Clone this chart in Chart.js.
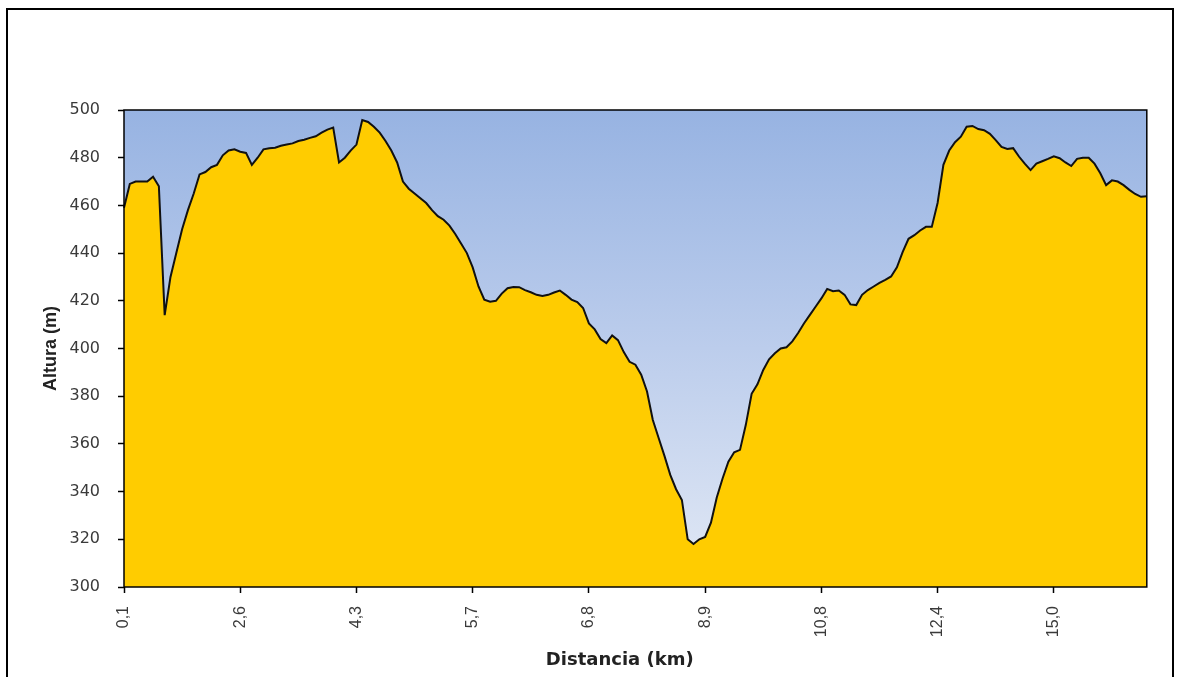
<!DOCTYPE html>
<html>
<head>
<meta charset="utf-8">
<title>Perfil de altura</title>
<script src="https://cdn.jsdelivr.net/npm/chart.js@4.4.1/dist/chart.umd.min.js"></script>
<style>
    body { margin: 0; background: #fff; }
    #marco {
        position: absolute; left: 6px; top: 8px;
        width: 1164px; height: 700px;
        border: 2px solid #000;
    }
    #my-Chart { position: absolute; left: 0; top: 0; }
</style>
</head>
<body>
<div id="marco"></div>
<canvas id="my-Chart" width="1179" height="677"></canvas>
<script>
// altura (m) de cada punto del perfil
const alturas = [
    459, 469, 470, 470, 470, 472, 468, 414, 430, 440,
    450, 458, 465, 473, 474, 476, 477, 481, 483, 483.5,
    482.5, 482, 477, 480, 483.5, 484, 484.2, 485, 485.5, 486,
    487, 487.5, 488.3, 489, 490.5, 491.8, 492.6, 478, 480, 483,
    485.5, 495.8, 495, 493, 490.5, 487, 483, 478, 470, 467,
    465, 463, 461, 458, 455.5, 454, 451.5, 448, 444, 440,
    434, 426, 420.5, 419.6, 420, 423, 425.3, 425.8, 425.7, 424.5,
    423.6, 422.5, 422, 422.5, 423.5, 424.3, 422.5, 420.5, 419.5, 417,
    410.5, 408, 404, 402.3, 405.5, 403.5, 398.5, 394.4, 393.2, 389,
    382, 370, 362.5, 355, 347, 341, 336.5, 320, 318, 320,
    321, 327, 337.5, 345.5, 352.5, 356.5, 357.5, 368, 381, 385,
    391, 395.5, 398, 400, 400.5, 403, 406.5, 410.5, 414, 417.5,
    421, 425, 424, 424.3, 422.5, 418.5, 418.2, 422.5, 424.5, 426,
    427.5, 428.8, 430.2, 434, 440.5, 446, 447.5, 449.5, 451, 451,
    461, 477, 483, 486.5, 488.8, 493, 493.3, 492, 491.5, 490,
    487.4, 484.5, 483.7, 484, 480.5, 477.5, 474.8, 477.5, 478.5, 479.5,
    480.6, 479.8, 478, 476.5, 479.5, 480, 480, 477.5, 473.5, 468.5,
    470.5, 470, 468.5, 466.5, 464.8, 463.6, 463.8
];

// etiquetas del eje X (una cada 20 puntos)
const distanciasKm = ['0,1', '2,6', '4,3', '5,7', '6,8', '8,9', '10,8', '12,4', '15,0'];
const cadaN = 20;

const alturaMin = 300;
const alturaMax = 500;
const pasoAltura = 20;

const puntos = alturas.map((_, i) => i);

// fondo degradado y marco del area de trazado
const fondoPlot = {
    id: 'fondoPlot',
    beforeDraw(chart) {
        const { ctx, chartArea: a } = chart;
        const g = ctx.createLinearGradient(0, a.top, 0, a.bottom);
        g.addColorStop(0, '#97b3e2');
        g.addColorStop(0.5, '#bccdec');
        g.addColorStop(1, '#e2e9f5');
        ctx.save();
        ctx.fillStyle = g;
        ctx.fillRect(a.left, a.top, a.right - a.left, a.bottom - a.top);
        ctx.restore();
    },
    afterDatasetsDraw(chart) {
        const { ctx, chartArea: a } = chart;
        ctx.save();
        ctx.strokeStyle = '#000';
        ctx.lineWidth = 1.5;
        ctx.strokeRect(a.left, a.top, a.right - a.left, a.bottom - a.top);
        ctx.restore();
    }
};

function plotChart() {
    const ctx = document.querySelector('#my-Chart');

    new Chart(ctx, {
        type: 'line',
        data: {
            labels: puntos,
            datasets: [{
                label: 'Altura',
                data: alturas,
                borderColor: '#111',
                borderWidth: 2,
                backgroundColor: '#ffcc00',
                fill: 'start',
                pointRadius: 0,
                tension: 0
            }]
        },
        options: {
            responsive: false,
            animation: false,
            devicePixelRatio: 1,
            layout: { padding: { top: 110, right: 31, bottom: 0, left: 0 } },
            plugins: {
                legend: { display: false },
                tooltip: { enabled: false }
            },
            scales: {
                x: {
                    type: 'category',
                    offset: false,
                    afterFit(scale) { scale.height = 90; },
                    border: { display: false },
                    grid: {
                        drawOnChartArea: false,
                        drawTicks: true,
                        tickLength: 6,
                        tickWidth: 1.5,
                        tickColor: (c) => (c.index % cadaN === 0 ? '#000' : 'rgba(0,0,0,0)')
                    },
                    ticks: {
                        autoSkip: false,
                        minRotation: 90,
                        maxRotation: 90,
                        padding: 13,
                        color: '#3a3a3a',
                        font: { family: 'Liberation Sans', size: 16 },
                        callback: (v, i) => (i % cadaN === 0 ? distanciasKm[i / cadaN] : '')
                    },
                    title: {
                        display: true,
                        // espacios al final para correr el titulo un poco a la izquierda
                        text: 'Distancia (km)     ',
                        color: '#222',
                        font: { family: 'DejaVu Sans', size: 18, weight: 'bold' },
                        padding: { top: 0, bottom: 6 }
                    }
                },
                y: {
                    min: alturaMin,
                    max: alturaMax,
                    afterFit(scale) { scale.width = 124; },
                    border: { display: false },
                    grid: {
                        drawOnChartArea: false,
                        drawTicks: true,
                        tickLength: 6,
                        tickWidth: 1.5,
                        tickColor: '#000'
                    },
                    ticks: {
                        stepSize: pasoAltura,
                        padding: 18,
                        color: '#3a3a3a',
                        font: { family: 'DejaVu Sans', size: 16 }
                    },
                    title: {
                        display: true,
                        text: 'Altura (m)',
                        color: '#222',
                        font: { family: 'Liberation Sans', size: 18, weight: 'bold' },
                        padding: { top: 40, bottom: 0 }
                    }
                }
            }
        },
        plugins: [fondoPlot]
    });
}

document.addEventListener("DOMContentLoaded", plotChart);
</script>
</body>
</html>
